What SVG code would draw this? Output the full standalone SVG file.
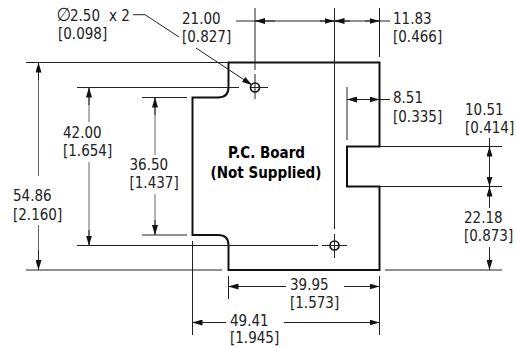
<svg xmlns="http://www.w3.org/2000/svg" width="516" height="347" viewBox="0 0 516 347">
<style>
text{font-family:"DejaVu Sans","Noto Sans",sans-serif;font-stretch:condensed;font-size:15px;fill:#222}
.b{font-weight:700;fill:#000;text-anchor:middle}
.l{fill:none;stroke:#222;stroke-width:1}
.g{fill:none;stroke:#666;stroke-width:1}
.o{fill:none;stroke:#111;stroke-width:2}
.h{fill:none;stroke:#111;stroke-width:1.7}
</style>
<defs>
<marker id="a" viewBox="0 0 10 6" refX="10" refY="3" markerWidth="10" markerHeight="6" markerUnits="userSpaceOnUse" orient="auto"><path d="M0 0L10 3L0 6z" fill="#111"/></marker>
</defs>
<g id="board">
<path class="o" d="M228.500 62.500H379.500V146.500H347V186.500H379.500V270H228.500V245Q228.500 235 218 235H192.500V97.500H218Q228.500 97.500 228.500 87Z"/>
<text class="b" x="266.500" y="158">P.C. Board</text>
<text class="b" x="266" y="178">(Not Supplied)</text>
</g>
<g id="hole-1">
<circle class="h" cx="255" cy="87.500" r="4.500"/>
<path class="l" d="M251 87.500H268M255 74V99"/>
</g>
<g id="hole-2">
<circle class="h" cx="334.500" cy="245.500" r="4.500"/>
<path class="l" d="M322 245.500H347M334.500 234V258"/>
</g>
<g id="connectors">
<path class="l" d="M26 62.500H228M77 87.500H239M142 97.500H187M142 235H187M77 245.500H318M26 270H222M255 8V70M334.500 8V229M379.500 8V57M347 87V140M228.500 276V299M379.500 276V335M192.500 241V335M380 146.500H502M380 186.500H502M385 270H502"/>
<path class="g" d="M38.500 63V176M38.500 225V269M89 88V122M89 162V245M155 98V155M155 194V234"/>
<g class="l">
<path marker-end="url(#a)" d="M38.500 80V62.500"/><path marker-end="url(#a)" d="M38.500 250V270"/>
<path marker-end="url(#a)" d="M89 105V87.500"/><path marker-end="url(#a)" d="M89 230V245.500"/>
<path marker-end="url(#a)" d="M155 115V97.500"/><path marker-end="url(#a)" d="M155 220V235"/>
<path d="M236 21H390"/>
<path marker-end="url(#a)" d="M275 21H255"/>
<path marker-end="url(#a)" d="M320 21H334.500"/><path marker-end="url(#a)" d="M350 21H334.500"/>
<path marker-end="url(#a)" d="M365 21H379.500"/>
<path d="M347 99.500H390"/>
<path marker-end="url(#a)" d="M365 99.500H379.500"/><path marker-end="url(#a)" d="M362 99.500H347"/>
<path d="M489.500 138V208M489.500 247V270"/>
<path marker-end="url(#a)" d="M489.500 160V146.500"/>
<path marker-end="url(#a)" d="M489.500 170V186.500"/><path marker-end="url(#a)" d="M489.500 200V186.500"/>
<path marker-end="url(#a)" d="M489.500 255V270"/>
<path d="M228.500 286.500H286M344 286.500H379.500"/>
<path marker-end="url(#a)" d="M245 286.500H228.500"/><path marker-end="url(#a)" d="M365 286.500H379.500"/>
<path d="M192.500 322.500H226M284 322.500H379.500"/>
<path marker-end="url(#a)" d="M210 322.500H192.500"/><path marker-end="url(#a)" d="M365 322.500H379.500"/>
<path d="M133 14.700H145L179 37"/><path marker-end="url(#a)" d="M196 48L252 85"/>
</g>
</g>
<g id="labels">
<text x="56.500" y="21"><tspan font-size="19">∅</tspan><tspan x="70" y="20.500">2.50</tspan><tspan x="109">x 2</tspan></text><text x="58" y="39">[0.098]</text>
<text x="182" y="24">21.00</text><text x="182" y="42">[0.827]</text>
<text x="393" y="24">11.83</text><text x="393" y="42">[0.466]</text>
<text x="393" y="103">8.51</text><text x="393" y="121.500">[0.335]</text>
<text x="465" y="114.500">10.51</text><text x="465" y="132.500">[0.414]</text>
<text x="464" y="223">22.18</text><text x="464" y="241">[0.873]</text>
<text x="63" y="138">42.00</text><text x="63" y="156">[1.654]</text>
<text x="129.500" y="170">36.50</text><text x="129.500" y="188">[1.437]</text>
<text x="13" y="201">54.86</text><text x="13" y="219.500">[2.160]</text>
<text x="290" y="289.500">39.95</text><text x="290" y="307.500">[1.573]</text>
<text x="230" y="326">49.41</text><text x="230" y="343">[1.945]</text>
</g>
</svg>
